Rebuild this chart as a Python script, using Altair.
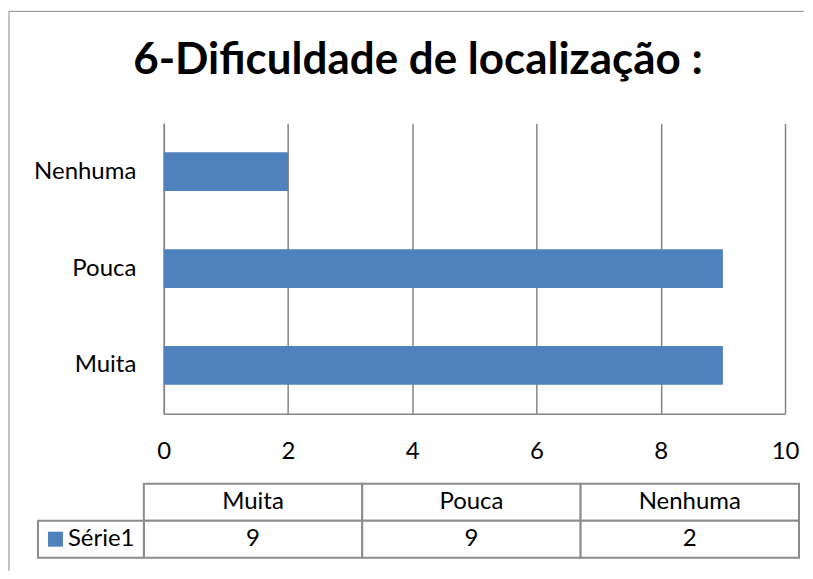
import altair as alt
import pandas as pd

# ---- data ----
categories = ["Muita", "Pouca", "Nenhuma"]
values = [9, 9, 2]
series_name = "Série1"
title_text = "6-Dificuldade de localização :"
x_ticks = [0, 2, 4, 6, 8, 10]

BAR = "#4F81BD"
GRID = "#868686"
FONT = "Lato"
FS = 24

df = pd.DataFrame({"cat": categories, "val": values})

# table rows (header row + value row) built from the arrays
table_rows = []
for c, v in zip(categories, values):
    table_rows.append({"cat": c, "row": "cab", "label": c})
    table_rows.append({"cat": c, "row": series_name, "label": str(v)})
table_df = pd.DataFrame(table_rows)
series_df = pd.DataFrame({"row": [series_name]})

row_domain = ["cab", series_name]
tab_x = alt.Scale(domain=categories, range=[-20, 636], paddingInner=0, paddingOuter=0)
tab_y = alt.Scale(domain=row_domain, range=[361, 435], paddingInner=0, paddingOuter=0)

one = pd.DataFrame({"k": [0]})
frame_top = alt.Chart(one).mark_rule(color="#8a8a8a", strokeWidth=1).encode(
    x=alt.value(-155), x2=alt.value(641), y=alt.value(-112)
)
frame_left = alt.Chart(one).mark_rule(color="#8a8a8a", strokeWidth=1).encode(
    x=alt.value(-155), y=alt.value(-112), y2=alt.value(448)
)

bars = alt.Chart(df).mark_bar(color=BAR).encode(
    x=alt.X(
        "val:Q",
        scale=alt.Scale(domain=[0, 10], nice=False),
        axis=alt.Axis(
            values=x_ticks, title=None, grid=True, gridColor=GRID, gridWidth=1.5,
            domainColor=GRID, domainWidth=1.5, ticks=False, labelFontSize=FS,
            labelFont=FONT, labelColor="black", labelPadding=26, format="d",
            labelFlush=False,
        ),
    ),
    y=alt.Y(
        "cat:N",
        sort=["Nenhuma", "Pouca", "Muita"],
        scale=alt.Scale(paddingInner=0.6, paddingOuter=0.3),
        axis=alt.Axis(
            title=None, ticks=False, domainColor=GRID, domainWidth=1.5,
            labelFontSize=FS, labelFont=FONT, labelColor="black", labelPadding=28,
        ),
    ),
)

cells = alt.Chart(table_df).mark_rect(fill="white", stroke="#8c8c8c", strokeWidth=2).encode(
    x=alt.X("cat:N", scale=tab_x, sort=categories, axis=None),
    y=alt.Y("row:N", scale=tab_y, sort=row_domain, axis=None),
)

cell_text = alt.Chart(table_df).mark_text(fontSize=FS, font=FONT, color="black").encode(
    x=alt.X("cat:N", scale=tab_x, sort=categories, axis=None),
    y=alt.Y("row:N", scale=tab_y, sort=row_domain, axis=None),
    text="label:N",
)

series_cell = alt.Chart(series_df).mark_rect(fill="white", stroke="#8c8c8c", strokeWidth=2).encode(
    x=alt.value(-126), x2=alt.value(-20),
    y=alt.Y("row:N", scale=tab_y, sort=row_domain, axis=None),
)

series_key = alt.Chart(series_df).mark_square(size=225, color=BAR, opacity=1).encode(
    x=alt.value(-108.5),
    y=alt.Y("row:N", scale=tab_y, sort=row_domain, axis=None),
)

series_label = alt.Chart(series_df).mark_text(
    fontSize=FS, font=FONT, color="black", align="left"
).encode(
    x=alt.value(-96),
    y=alt.Y("row:N", scale=tab_y, sort=row_domain, axis=None),
    text="row:N",
)

chart = alt.layer(
    frame_top, frame_left, bars, cells, cell_text, series_cell, series_key, series_label
).resolve_scale(
    x="independent", y="independent"
).properties(
    width=622,
    height=291,
    padding={"left": 0, "top": 2, "right": 0, "bottom": 0},
    title=alt.TitleParams(
        text=title_text, fontSize=44, font=FONT, fontWeight="bold", color="black",
        anchor="middle", frame="group", dx=-56.5, offset=-72,
    ),
).configure_view(stroke=None)

chart.save("out.html", embed_options={"renderer": "svg", "actions": False})
